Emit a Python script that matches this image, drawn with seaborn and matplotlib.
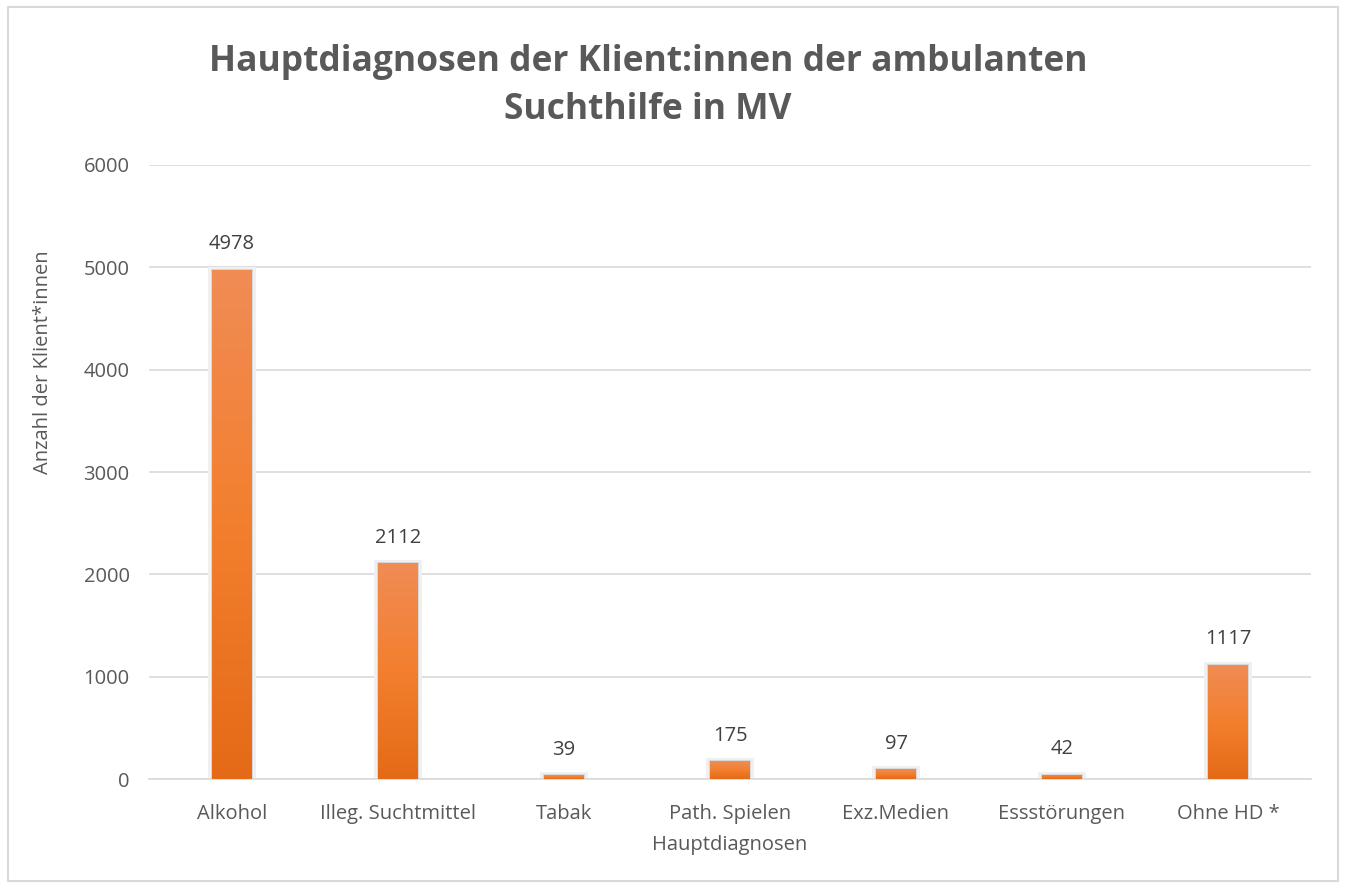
import numpy as np
import seaborn as sns
import pandas as pd
import matplotlib.pyplot as plt
from matplotlib.patches import Rectangle
from matplotlib.colors import LinearSegmentedColormap

categories = ['Alkohol', 'Illeg. Suchtmittel', 'Tabak', 'Path. Spielen', 'Exz.Medien', 'Essstörungen', 'Ohne HD *']
counts = [4978, 2112, 39, 175, 97, 42, 1117]
yticks = [0, 1000, 2000, 3000, 4000, 5000, 6000]

df = pd.DataFrame({'Hauptdiagnosen': categories, 'Anzahl': counts})

sns.set_style('white')
plt.rcParams['font.family'] = ['Open Sans', 'DejaVu Sans']
grey = '#595959'

fig = plt.figure(figsize=(13.45, 8.88), dpi=100)
ax = fig.add_axes([149 / 1345, 1 - 779 / 888, 1162 / 1345, 614 / 888])

sns.barplot(data=df, x='Hauptdiagnosen', y='Anzahl', ax=ax, width=0.24,
            color='#F37F2E', edgecolor='#d4d4d4', linewidth=1.2, zorder=3)

# gradient fill + soft shadow for the bars
cmap = LinearSegmentedColormap.from_list('og', ['#E46A17', '#F37F2E', '#F08C55'])
grad = np.linspace(0, 1, 256).reshape(-1, 1)
for bar in list(ax.patches):
    x0, w, h = bar.get_x(), bar.get_width(), bar.get_height()
    pad = 0.022
    ax.add_patch(Rectangle((x0 - pad, 0), w + 2 * pad, h + 30, facecolor='#f0f0f0',
                           edgecolor='none', zorder=2))
    im = ax.imshow(grad, cmap=cmap, origin='lower', aspect='auto',
                   extent=[x0, x0 + w, 0, h], zorder=4)
    im.set_clip_path(bar)
    ax.text(x0 + w / 2, h + 150, str(int(h)), ha='center', va='bottom',
            fontsize=14.5, color='#404040')

ax.set_xlim(-0.5, len(categories) - 0.5)
ax.set_ylim(0, 6000)
ax.set_yticks(yticks)
ax.yaxis.grid(True, color='#d9d9d9', linewidth=1.2, zorder=0)
ax.set_axisbelow(True)
for s in ['top', 'right', 'left']:
    ax.spines[s].set_visible(False)
ax.spines['bottom'].set_color('#d9d9d9')
ax.spines['bottom'].set_linewidth(1.2)
ax.tick_params(axis='both', length=0, labelsize=14.5, labelcolor=grey)
ax.tick_params(axis='x', pad=18)
ax.tick_params(axis='y', pad=14)

ax.set_xlabel('Hauptdiagnosen', fontsize=14.5, color=grey, labelpad=8)
ax.set_ylabel('Anzahl der Klient*innen', fontsize=14.5, color=grey)
ax.yaxis.set_label_coords(-96 / 1162, (779 - 362) / 614)

fig.text(648 / 1345, 1 - 86 / 888, 'Hauptdiagnosen der Klient:innen der ambulanten\nSuchthilfe in MV',
         ha='center', va='center', fontsize=25.5, fontweight='bold', color=grey, linespacing=1.45)

fig.patches.append(Rectangle((8 / 1345, 1 - 881 / 888), 1330 / 1345, 874 / 888,
                             transform=fig.transFigure, fill=False,
                             edgecolor='#d9d9d9', linewidth=1.5))

fig.savefig('out.png', dpi=100, facecolor='white')
